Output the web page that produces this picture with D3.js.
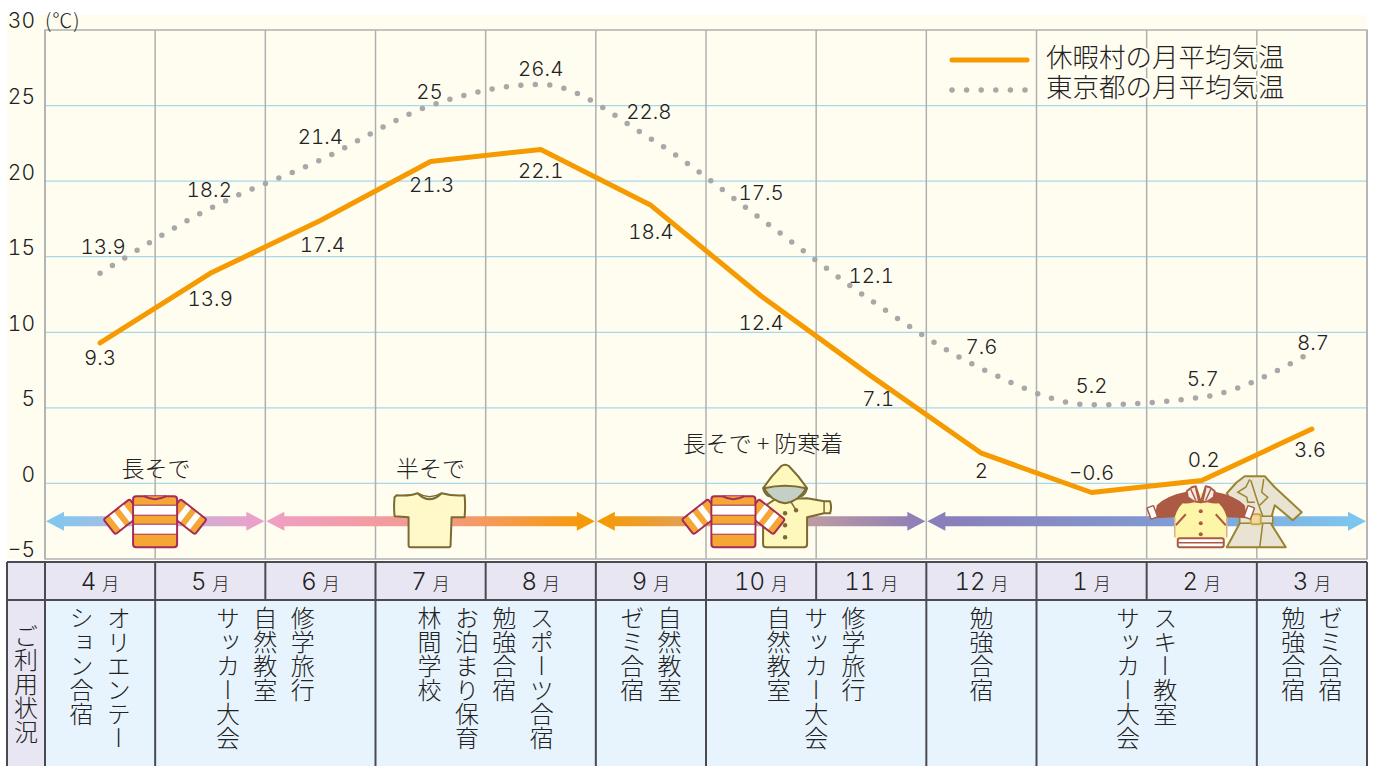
<!DOCTYPE html>
<html lang="ja">
<head>
<meta charset="utf-8">
<script src="https://d3js.org/d3.v7.min.js"></script>
<style>
  body { margin: 0; background: #fff; overflow: hidden; }
  svg { display: block; }
  text { font-family: "Inter", "Noto Sans CJK JP", sans-serif; font-weight: 300; fill: #222; font-variant-numeric: tabular-nums; }
  .jp { font-family: "Noto Sans CJK JP", sans-serif; font-weight: 300; fill: #222; }
  .vert { writing-mode: vertical-rl; text-orientation: upright; }
</style>
</head>
<body>
<div id="chart"></div>
<script>
// data
var months = ["4", "5", "6", "7", "8", "9", "10", "11", "12", "1", "2", "3"];
var village = [9.3, 13.9, 17.4, 21.3, 22.1, 18.4, 12.4, 7.1, 2, -0.6, 0.2, 3.6];
var tokyo = [13.9, 18.2, 21.4, 25, 26.4, 22.8, 17.5, 12.1, 7.6, 5.2, 5.7, 8.7];
var yTicks = [-5, 0, 5, 10, 15, 20, 25, 30];
var legendNames = ["休暇村の月平均気温", "東京都の月平均気温"];

// how many months each usage cell covers and what is written in it (right to left)
var usageSpans = [1, 2, 2, 1, 2, 1, 2, 1];
var usageTexts = [
  ["オリエンテー", "ション合宿"],
  ["修学旅行", "自然教室", "サッカー大会"],
  ["スポーツ合宿", "勉強合宿", "お泊まり保育", "林間学校"],
  ["自然教室", "ゼミ合宿"],
  ["修学旅行", "サッカー大会", "自然教室"],
  ["勉強合宿"],
  ["スキー教室", "サッカー大会"],
  ["ゼミ合宿", "勉強合宿"]
];

// clothing periods, in month positions
var seasonStart = [0, 2, 5, 8];
var seasonEnd = [2, 5, 8, 12];
var seasonColors = [
  ["#7cc9f0", "#bdb6de", "#f09fc6"],
  ["#f09fc6", "#f39a8e", "#f59a00"],
  ["#f59a00", "#d2a79a", "#8b7db8"],
  ["#8b7db8", "#8297d0", "#7cc9f0"]
];

// label nudges, in px from the point
var villageDx = [0, 0, 2, 1, 0, 0, 0, 7, 0, 0, 2, -2];
var villageDy = [15, 25, 24, 23, 21, 26, 27, 23, 18, -20, -21, 21];
var tokyoDx = [3, -1, 0, -1, 0, -2, 0, 0, 0, 0, 1, 1];
var tokyoDy = [-27, -19, -23, -14, -16, -27, -26, -25, -22, -19, -18, -9];

var width = 1373, height = 766;
var margin = {top: 30, right: 6, bottom: 207, left: 45};

var svg = d3.select("#chart")
  .append("svg")
    .attr("width", width)
    .attr("height", height);

var x = d3.scaleBand().domain(d3.range(12)).range([margin.left, width - margin.right]);
var y = d3.scaleLinear().domain([-5, 30]).range([height - margin.bottom, margin.top]);
var cx = function(i) { return x(i) + x.bandwidth() / 2; };
var edge = function(i) { return margin.left + i * x.step(); };

// cream background
svg.append("rect")
  .attr("x", 7).attr("y", 15)
  .attr("width", width - margin.right - 7).attr("height", y(-5) - 15)
  .attr("fill", "#fffdf0");

// horizontal grid
svg.append("g").selectAll("line")
  .data(yTicks.filter(function(d) { return d > -5 && d < 30; }))
  .enter().append("line")
    .attr("x1", margin.left).attr("x2", width - margin.right)
    .attr("y1", y).attr("y2", y)
    .attr("stroke", "#a6d8ea").attr("stroke-width", 1.2);

// vertical grid + frame
svg.append("g").selectAll("line")
  .data(d3.range(13))
  .enter().append("line")
    .attr("x1", edge).attr("x2", edge)
    .attr("y1", y(30)).attr("y2", y(-5))
    .attr("stroke", "#b0b0b0").attr("stroke-width", 1.5);
svg.append("rect")
  .attr("x", margin.left).attr("y", y(30))
  .attr("width", edge(12) - margin.left).attr("height", y(-5) - y(30))
  .attr("fill", "none").attr("stroke", "#b0b0b0").attr("stroke-width", 1.5);

// y axis
var yAxis = svg.append("g")
  .attr("transform", "translate(" + margin.left + ",0)")
  .call(d3.axisLeft(y).tickValues(yTicks).tickSize(0).tickPadding(10));
yAxis.select(".domain").remove();
yAxis.selectAll("text")
  .attr("dy", "-0.1em")
  .style("font-size", "21px")
  .style("font-family", "Inter")
  .style("font-weight", 300)
  .attr("fill", "#222");
svg.append("text")
  .attr("class", "jp")
  .attr("x", margin.left).attr("y", 28)
  .style("font-size", "20px")
  .style("letter-spacing", "1px")
  .text("(℃)");

// clothing arrows
var defs = svg.append("defs");
var arrowY = y(-2.5);
seasonStart.forEach(function(s, i) {
  var x0 = edge(s), x1 = edge(seasonEnd[i]);
  var grad = defs.append("linearGradient")
    .attr("id", "season" + i)
    .attr("gradientUnits", "userSpaceOnUse")
    .attr("x1", x0).attr("x2", x1).attr("y1", 0).attr("y2", 0);
  seasonColors[i].forEach(function(c, j) {
    grad.append("stop").attr("offset", (j * 50) + "%").attr("stop-color", c);
  });
  var head = 19, half = 9.5, shaft = 5;
  var p = d3.path();
  p.moveTo(x0 + 1, arrowY);
  p.lineTo(x0 + head, arrowY - half);
  p.lineTo(x0 + head, arrowY - shaft);
  p.lineTo(x1 - head, arrowY - shaft);
  p.lineTo(x1 - head, arrowY - half);
  p.lineTo(x1 - 1, arrowY);
  p.lineTo(x1 - head, arrowY + half);
  p.lineTo(x1 - head, arrowY + shaft);
  p.lineTo(x0 + head, arrowY + shaft);
  p.lineTo(x0 + head, arrowY + half);
  p.closePath();
  svg.append("path").attr("d", p.toString()).attr("fill", "url(#season" + i + ")");
});

// clothing icons, each drawn around its own centre
var crimson = "#a62a5e", khaki = "#7b6a32", brick = "#ad5a45", gold = "#9a8430";

function sleeve(g, flip) {
  var s = g.append("g").attr("transform", (flip ? "scale(-1,1) " : "") + "translate(-20,-15) rotate(142)");
  s.append("rect").attr("x", 0).attr("y", -10).attr("width", 33).attr("height", 19).attr("rx", 2)
    .attr("fill", "#f5a733").attr("stroke", crimson).attr("stroke-width", 2);
  [8, 20].forEach(function(d) {
    s.append("rect").attr("x", d).attr("y", -9).attr("width", 6).attr("height", 17).attr("fill", "#fff");
  });
}
function sweater(px) {
  var g = svg.append("g").attr("transform", "translate(" + px + "," + arrowY + ")");
  sleeve(g, false);
  sleeve(g, true);
  g.append("rect").attr("x", -22).attr("y", -25).attr("width", 44).attr("height", 51).attr("rx", 3)
    .attr("fill", "#f5a733").attr("stroke", crimson).attr("stroke-width", 2);
  [-16, 3].forEach(function(d) {
    g.append("rect").attr("x", -21).attr("y", d).attr("width", 42).attr("height", 10).attr("fill", "#fff");
    g.append("line").attr("x1", -22).attr("x2", 22).attr("y1", d).attr("y2", d)
      .attr("stroke", crimson).attr("stroke-width", 1);
    g.append("line").attr("x1", -22).attr("x2", 22).attr("y1", d + 10).attr("y2", d + 10)
      .attr("stroke", crimson).attr("stroke-width", 1);
  });
  g.append("path").attr("d", "M-11,-25 Q0,-19 11,-25").attr("fill", "#f5a733")
    .attr("stroke", crimson).attr("stroke-width", 2);
}
function tshirt(px) {
  var g = svg.append("g").attr("transform", "translate(" + px + "," + arrowY + ")");
  g.append("path")
    .attr("d", "M-33,-26 Q-20,-25 -12,-28 Q0,-16 12,-28 Q24,-25 35,-26 Q36,-15 35,-4 L22,-4 L21,24 Q21,26 19,26 L-19,26 Q-21,26 -21,24 L-21,-4 L-35,-5 Q-36,-15 -35,-24 Z")
    .attr("fill", "#fff8c8").attr("stroke", khaki).attr("stroke-width", 2).attr("stroke-linejoin", "round");
  g.append("path").attr("d", "M-12,-28 Q0,-21 12,-28").attr("fill", "none").attr("stroke", khaki).attr("stroke-width", 1.5);
}
function raincoat(px) {
  var g = svg.append("g").attr("transform", "translate(" + px + "," + arrowY + ")");
  g.append("path")
    .attr("d", "M-22,-14 L-10,-22 L22,-23 L39,-20 L45,-20 Q47,-14 45,-8 L39,-8 L22,-4 L22,23 Q22,26 19,26 L-19,26 Q-22,26 -22,23 Z")
    .attr("fill", "#fff8bd").attr("stroke", khaki).attr("stroke-width", 2).attr("stroke-linejoin", "round");
  g.append("line").attr("x1", 39).attr("y1", -20).attr("x2", 39).attr("y2", -8).attr("stroke", khaki).attr("stroke-width", 1.5);
  g.append("path")
    .attr("d", "M-22,-33 Q-14,-45 -4,-55 Q0,-58 4,-55 Q14,-45 22,-33 Q20,-26 16,-25 L-16,-25 Q-20,-26 -22,-33 Z")
    .attr("fill", "#fff8bd").attr("stroke", khaki).attr("stroke-width", 2).attr("stroke-linejoin", "round");
  g.append("path").attr("d", "M-21,-33 Q0,-38 21,-33 Q14,-20 0,-18 Q-14,-20 -21,-33 Z")
    .attr("fill", "#c4d0c6").attr("stroke", khaki).attr("stroke-width", 2);
  [-8, 4, 16].forEach(function(d) {
    g.append("circle").attr("cx", 0).attr("cy", d).attr("r", 2.2).attr("fill", khaki);
  });
  g.append("circle").attr("cx", 11).attr("cy", -11).attr("r", 2.2).attr("fill", khaki);
  g.append("line").attr("x1", 6).attr("y1", -19).attr("x2", 11).attr("y2", -11).attr("stroke", khaki).attr("stroke-width", 1.5);
}
function trench(px) {
  var g = svg.append("g").attr("transform", "translate(" + px + "," + arrowY + ")");
  g.append("path")
    .attr("d", "M-10,-45 L10,-45 L20,-34 L47,-9 L38,-1 L20,-16 L17,-5 L16,2 L31,26 L-28,26 L-15,2 L-15,-5 L-28,-28 L-18,-39 Z")
    .attr("fill", "#e8e3d2").attr("stroke", gold).attr("stroke-width", 2).attr("stroke-linejoin", "round");
  g.append("path").attr("d", "M-5,-42 L-9,-34 L-17,-29 L-8,-24 L-7,-19 L0,-19 M9,-42 L7,-29 L13,-24 L5,-16 M-4,-41 L3,-19 L8,-5 M8,2 L5,26")
    .attr("fill", "none").attr("stroke", gold).attr("stroke-width", 1.5);
  g.append("rect").attr("x", -15).attr("y", -5).attr("width", 33).attr("height", 7)
    .attr("fill", "#e8e3d2").attr("stroke", gold).attr("stroke-width", 1.5);
  g.append("rect").attr("x", -4).attr("y", -7).attr("width", 10).attr("height", 10).attr("rx", 2)
    .attr("fill", "#f0d99a").attr("stroke", "#c8a848").attr("stroke-width", 2);
}
function jacket(px) {
  var g = svg.append("g").attr("transform", "translate(" + px + "," + arrowY + ")");
  g.append("path")
    .attr("d", "M-26,-18 L-12,-28 L12,-28 L26,-18 L26,18 L-26,18 Z")
    .attr("fill", "#fdf6a8");
  [-1, 1].forEach(function(s) {
    var m = g.append("g").attr("transform", "scale(" + s + ",1)");
    m.append("path")
      .attr("d", "M-12,-30 Q-34,-26 -44,-16 L-46,-3 L-26,-4 Q-24,-12 -18,-18 Q-8,-17 -2,-22 Z")
      .attr("fill", brick);
    m.append("rect").attr("x", -52).attr("y", -15).attr("width", 7).attr("height", 12).attr("rx", 1)
      .attr("transform", "rotate(-20 -48 -9)")
      .attr("fill", "#fff").attr("stroke", brick).attr("stroke-width", 1.5);
    m.append("path").attr("d", "M0,-19 L-5,-35 L-9,-34 L-14,-30 L-13,-24 L-7,-20 Z")
      .attr("fill", "#f8ece4").attr("stroke", brick).attr("stroke-width", 2).attr("stroke-linejoin", "round");
    m.append("line").attr("x1", -5).attr("y1", -33).attr("x2", -2).attr("y2", -20).attr("stroke", brick).attr("stroke-width", 1.5);
    m.append("line").attr("x1", -10).attr("y1", -32).attr("x2", -5).attr("y2", -21).attr("stroke", brick).attr("stroke-width", 1.5);
    m.append("line").attr("x1", -25).attr("y1", 4).attr("x2", -15).attr("y2", -7).attr("stroke", brick).attr("stroke-width", 2);
    m.append("line").attr("x1", -26).attr("y1", -4).attr("x2", -26).attr("y2", 16).attr("stroke", "#d9b08a").attr("stroke-width", 1.5);
  });
  [-10, 2, 13].forEach(function(d) {
    g.append("circle").attr("cx", 0).attr("cy", d).attr("r", 2).attr("fill", brick);
  });
  g.append("rect").attr("x", -23).attr("y", 17).attr("width", 46).attr("height", 9).attr("rx", 2)
    .attr("fill", "#fff").attr("stroke", brick).attr("stroke-width", 2);
  g.append("line").attr("x1", -23).attr("x2", 23).attr("y1", 21.5).attr("y2", 21.5)
    .attr("stroke", brick).attr("stroke-width", 1.5);
}

sweater(cx(0) + 55);
tshirt(cx(3) - 1);
raincoat(cx(6) + 24);
sweater(cx(5) + 82.5);
trench(cx(10) + 53);
jacket(cx(10) - 1);

// clothing captions
svg.append("g").selectAll("text")
  .data([["長そで", cx(0) + 56, 477], ["半そで", cx(3), 477], ["長そで + 防寒着", cx(6) + 2, 452]])
  .enter().append("text")
    .attr("class", "jp")
    .attr("x", function(d) { return d[1]; })
    .attr("y", function(d) { return d[2]; })
    .attr("text-anchor", "middle")
    .style("font-size", "23px")
    .text(function(d) { return d[0]; });

// lines
var line = d3.line()
  .x(function(d, i) { return cx(i); })
  .y(function(d) { return y(d); });
svg.append("path")
  .datum(tokyo)
  .attr("d", line.curve(d3.curveMonotoneX))
  .attr("fill", "none")
  .attr("stroke", "#a8a8a8")
  .attr("stroke-width", 5.5)
  .attr("stroke-linecap", "round")
  .attr("stroke-dasharray", "0 14.5");
svg.append("path")
  .datum(village)
  .attr("d", line.curve(d3.curveLinear))
  .attr("fill", "none")
  .attr("stroke", "#f59a00")
  .attr("stroke-width", 5)
  .attr("stroke-linecap", "round")
  .attr("stroke-linejoin", "round");

// value labels
var fmt = function(d) { return String(d).replace("-", "−"); };
svg.append("g").selectAll("text")
  .data(village)
  .enter().append("text")
    .attr("x", function(d, i) { return cx(i) + villageDx[i]; })
    .attr("y", function(d, i) { return y(d) + villageDy[i]; })
    .attr("dy", "0.35em")
    .attr("text-anchor", "middle")
    .style("font-size", "20.5px")
    .text(fmt);
svg.append("g").selectAll("text")
  .data(tokyo)
  .enter().append("text")
    .attr("x", function(d, i) { return cx(i) + tokyoDx[i]; })
    .attr("y", function(d, i) { return y(d) + tokyoDy[i]; })
    .attr("dy", "0.35em")
    .attr("text-anchor", "middle")
    .style("font-size", "20.5px")
    .text(fmt);

// legend
var legendY = [60, 90];
svg.append("line")
  .attr("x1", 952).attr("x2", 1027).attr("y1", legendY[0]).attr("y2", legendY[0])
  .attr("stroke", "#f59a00").attr("stroke-width", 5).attr("stroke-linecap", "round");
svg.append("line")
  .attr("x1", 952).attr("x2", 1027).attr("y1", legendY[1]).attr("y2", legendY[1])
  .attr("stroke", "#a8a8a8").attr("stroke-width", 5.5).attr("stroke-linecap", "round")
  .attr("stroke-dasharray", "0 14.6");
svg.append("g").selectAll("text")
  .data(legendNames)
  .enter().append("text")
    .attr("class", "jp")
    .attr("x", 1046)
    .attr("y", function(d, i) { return legendY[i] + 7; })
    .style("font-size", "26.5px")
    .style("paint-order", "stroke")
    .style("stroke", "#fffdf0")
    .style("stroke-width", 4)
    .text(function(d) { return d; });

// table below the chart
var tableTop = 562, rowLine = 600, tableLeft = 7;
var lineColor = "#4a4a50";
svg.append("rect").attr("x", tableLeft).attr("y", tableTop)
  .attr("width", width - margin.right - tableLeft).attr("height", height - tableTop)
  .attr("fill", "#e8e6f3");
svg.append("rect").attr("x", margin.left).attr("y", rowLine)
  .attr("width", edge(12) - margin.left).attr("height", height - rowLine)
  .attr("fill", "#e8f4fd");

// month row
var monthCell = svg.append("g").selectAll("text")
  .data(months)
  .enter().append("text")
    .attr("x", function(d, i) { return cx(i); })
    .attr("y", 590)
    .attr("text-anchor", "middle");
monthCell.append("tspan").style("font-size", "24px").text(function(d) { return d; });
monthCell.append("tspan").attr("class", "jp").attr("dx", 6).style("font-size", "17px").text("月");

// usage row
var usageEdges = [0];
usageSpans.forEach(function(d, i) { usageEdges.push(usageEdges[i] + d); });
usageTexts.forEach(function(list, i) {
  var mid = (edge(usageEdges[i]) + edge(usageEdges[i + 1])) / 2;
  svg.append("g").selectAll("text")
    .data(list)
    .enter().append("text")
      .attr("class", "jp vert")
      .attr("x", function(d, j) { return mid + ((list.length - 1) / 2 - j) * 37.4; })
      .attr("y", 606)
      .style("font-size", "24px")
      .text(function(d) { return d; });
});
svg.append("text")
  .attr("class", "jp vert")
  .attr("x", 26).attr("y", 684)
  .attr("text-anchor", "middle")
  .style("font-size", "24px")
  .text("ご利用状況");

// table lines
var rule = function(x1, y1, x2, y2) {
  svg.append("line")
    .attr("x1", x1).attr("y1", y1).attr("x2", x2).attr("y2", y2)
    .attr("stroke", lineColor).attr("stroke-width", 2);
};
rule(tableLeft, tableTop, edge(12), tableTop);
rule(tableLeft, rowLine, edge(12), rowLine);
rule(tableLeft, tableTop, tableLeft, height);
rule(edge(0), tableTop, edge(0), height);
rule(edge(12), tableTop, edge(12), height);
d3.range(1, 12).forEach(function(i) { rule(edge(i), tableTop, edge(i), rowLine); });
usageEdges.slice(1, -1).forEach(function(i) { rule(edge(i), rowLine, edge(i), height); });
</script>
</body>
</html>
